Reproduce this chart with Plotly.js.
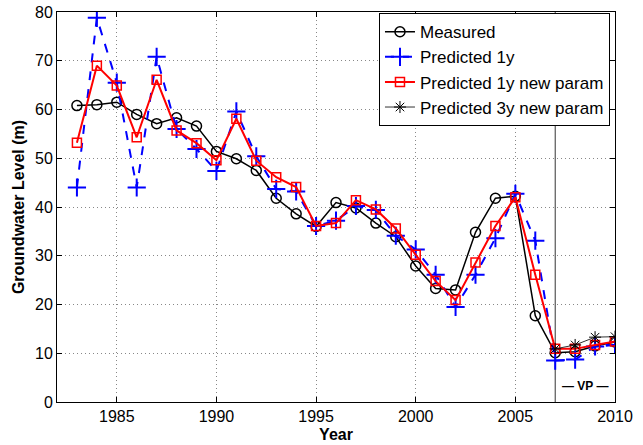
<!DOCTYPE html>
<html>
<head>
<meta charset="utf-8">
<script src="https://cdn.plot.ly/plotly-3.0.1.min.js"></script>
<style>html,body{margin:0;padding:0;background:#fff;}#chart{width:643px;height:445px;}</style>
</head>
<body>
<div id="chart"></div>
<script>
var years = [1983,1984,1985,1986,1987,1988,1989,1990,1991,1992,1993,1994,1995,1996,1997,1998,1999,2000,2001,2002,2003,2004,2005,2006,2007,2008,2009,2010];
var measured = [60.8,61.0,61.5,59.0,57.1,58.3,56.6,51.4,49.9,47.5,41.8,38.6,36.0,40.9,39.8,36.7,33.9,27.9,23.3,23.0,34.8,41.8,42.2,17.7,10.1,10.3,11.5,12.3];
var pred1y = [44.0,78.8,65.5,44.0,70.8,56.0,51.9,47.4,59.6,50.4,43.7,43.2,36.1,37.2,40.2,39.4,34.1,31.3,26.1,19.5,26.1,33.6,42.7,33.1,8.5,8.7,11.4,11.7];
var pred1yNew = [53.2,69.0,64.9,54.3,66.1,55.7,53.1,49.6,58.1,49.5,46.1,44.1,36.1,36.7,41.4,39.5,35.6,30.2,24.8,20.9,28.6,36.1,42.0,26.1,10.9,10.9,11.7,12.4];
var years3y = [2007,2008,2009,2010];
var pred3yNew = [10.9,11.7,13.3,13.4];
var xTicks = [1985,1990,1995,2000,2005,2010];
var yTicks = [0,10,20,30,40,50,60,70,80];
var vpYear = 2007;

var FONT = "Liberation Sans, Arial, sans-serif";

var traces = [
  {x: years, y: measured, name: "Measured", type: "scatter", mode: "lines+markers",
   line: {color: "#000000", width: 1.5},
   marker: {symbol: "circle-open", size: 10, color: "#000000", line: {width: 1.5, color: "#000000"}}},
  {x: years, y: pred1y, name: "Predicted 1y", type: "scatter", mode: "lines+markers",
   line: {color: "#0000ff", width: 2, dash: "dash"},
   marker: {symbol: "cross-thin-open", size: 13, color: "#0000ff", line: {width: 2, color: "#0000ff"}}},
  {x: years, y: pred1yNew, name: "Predicted 1y new param", type: "scatter", mode: "lines+markers",
   line: {color: "#ff0000", width: 2},
   marker: {symbol: "square-open", size: 9, color: "#ff0000", line: {width: 1.5, color: "#ff0000"}}},
  {x: years3y, y: pred3yNew, name: "Predicted 3y new param", type: "scatter", mode: "lines+markers",
   line: {color: "#333333", width: 1},
   marker: {symbol: "asterisk-open", size: 10, color: "#000000", line: {width: 1, color: "#000000"}}}
];

var layout = {
  width: 643, height: 445,
  margin: {l: 57, r: 28, t: 12, b: 43},
  paper_bgcolor: "#ffffff", plot_bgcolor: "#ffffff",
  font: {family: FONT, size: 15, color: "#000000"},
  showlegend: true,
  legend: {x: 0.991, y: 0.997, xanchor: "right", yanchor: "top",
    bgcolor: "#ffffff", bordercolor: "#000000", borderwidth: 1, itemwidth: 30,
    font: {family: FONT, size: 17, color: "#000000"}},
  xaxis: {range: [1982, 2010], tickvals: xTicks, ticktext: xTicks.map(String),
    showline: true, linecolor: "#000000", linewidth: 1, mirror: "ticks",
    ticks: "inside", ticklen: 5, tickcolor: "#000000",
    showgrid: true, gridcolor: "#888888", griddash: "1px,3px", gridwidth: 1,
    zeroline: false, tickfont: {family: FONT, size: 16},
    title: {text: "<b>Year</b>", font: {family: FONT, size: 16}, standoff: 4}},
  yaxis: {range: [0, 80], tickvals: yTicks, ticktext: yTicks.map(String),
    showline: true, linecolor: "#000000", linewidth: 1, mirror: "ticks",
    ticks: "inside", ticklen: 5, tickcolor: "#000000",
    showgrid: true, gridcolor: "#888888", griddash: "1px,3px", gridwidth: 1,
    zeroline: false, tickfont: {family: FONT, size: 16},
    title: {text: "<b>Groundwater Level (m)</b>", font: {family: FONT, size: 16}, standoff: 6}},
  shapes: [
    {type: "line", xref: "x", yref: "y", x0: vpYear, x1: vpYear, y0: 0, y1: 80,
     line: {color: "#333333", width: 1}, layer: "below"}
  ],
  annotations: [
    {x: 2008.5, y: 3.2, xref: "x", yref: "y", text: "<b>— VP —</b>", showarrow: false,
     font: {family: FONT, size: 12, color: "#000000"}}
  ]
};

Plotly.newPlot("chart", traces, layout, {displayModeBar: false, staticPlot: true});
</script>
</body>
</html>
